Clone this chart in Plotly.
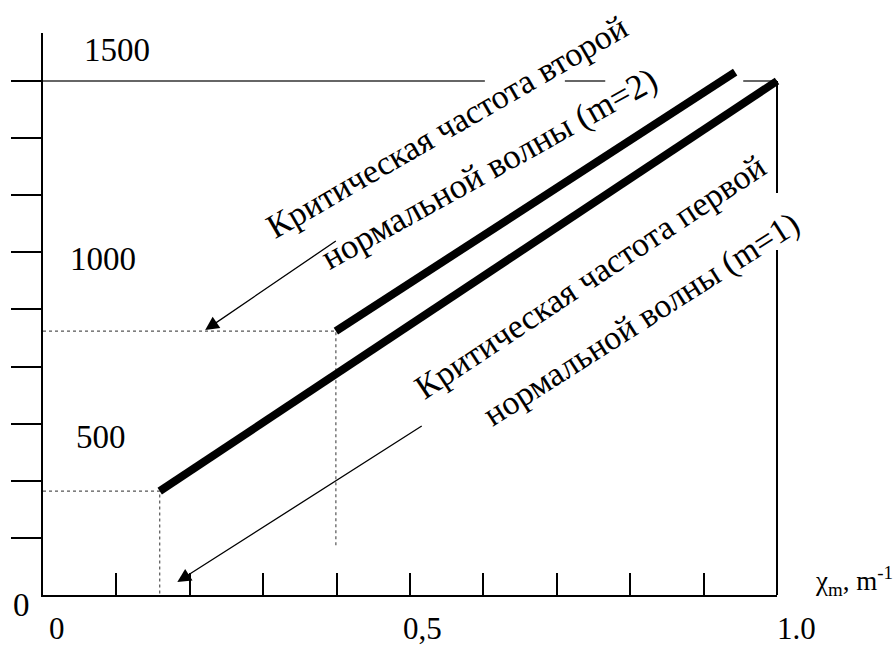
import plotly.graph_objects as go

# ---- data ----
x_tick_vals = [0.1, 0.2, 0.3, 0.4, 0.5, 0.6, 0.7, 0.8, 0.9]
y_tick_vals = [1500 / 9 * i for i in range(1, 10)]

m1_x = [0.159, 1.0]          # first normal wave (m=1)
m1_y = [303, 1500]
m2_x = [0.399, 0.943]        # second normal wave (m=2)
m2_y = [770, 1526]

line1500_x = [0.0, 0.602, None, 0.711, 0.766, None, 0.954, 1.0]
line1500_y = [1500, 1500, None, 1500, 1500, None, 1500, 1500]

right_x = [1.0, 1.0, None, 1.0, 1.0]
right_y = [1500, 1173, None, 1007, 0]

y_labels = ["1500", "1000", "500"]
y_label_pos = [(0.101, 1590), (0.082, 981), (0.079, 461)]
x_labels = ["0", "0,5", "1.0"]
x_label_vals = [0.0, 0.5, 1.0]
x_label_shift = [14, 12, 19]

texts = ["Критическая частота второй", "нормальной волны (m=2)",
         "Критическая частота первой", "нормальной волны (m=1)"]
text_pos = [(0.551, 1366), (0.608, 1246), (0.746, 928), (0.8155, 805)]
text_angle = [-30, -29, -33.5, -32.5]
text_size = [34, 35, 34, 34]

arrow_head = [(0.221, 773), (0.183, 38)]
arrow_tail = [(0.401, 1036), (0.518, 496)]

# ---- pixel geometry ----
W, H = 895, 646
px_x0, px_x1 = 43, 777      # x=0 and x=1.0
px_y0, px_ytop = 595, 33    # y=0 and y=1640
y_top = 1640
sx = (px_x1 - px_x0) / 1.0
sy = (px_y0 - px_ytop) / y_top
xr = [-px_x0 / sx, (W - px_x0) / sx]
yr = [-(H - px_y0) / sy, px_y0 / sy]

FONT = "Liberation Serif"
fig = go.Figure()

dot = dict(color="#555555", width=1.2, dash="dot")
fig.add_trace(go.Scatter(x=[0, m1_x[0], m1_x[0]], y=[m1_y[0], m1_y[0], 0],
                         mode="lines", line=dot, hoverinfo="skip"))
fig.add_trace(go.Scatter(x=[0, m2_x[0], m2_x[0]], y=[m2_y[0], m2_y[0], 137],
                         mode="lines", line=dot, hoverinfo="skip"))
fig.add_trace(go.Scatter(x=line1500_x, y=line1500_y, mode="lines",
                         line=dict(color="#333333", width=1.6), hoverinfo="skip"))
fig.add_trace(go.Scatter(x=right_x, y=right_y, mode="lines",
                         line=dict(color="black", width=2), hoverinfo="skip"))
fig.add_trace(go.Scatter(x=m1_x, y=m1_y, mode="lines",
                         line=dict(color="black", width=8), hoverinfo="skip"))
fig.add_trace(go.Scatter(x=m2_x, y=m2_y, mode="lines",
                         line=dict(color="black", width=8), hoverinfo="skip"))
# axis-frame subplot
fig.add_trace(go.Scatter(x=[None], y=[None], xaxis="x2", yaxis="y2",
                         mode="markers", hoverinfo="skip"))

ann = []
for t, (x, y) in zip(y_labels, y_label_pos):
    ann.append(dict(x=x, y=y, xref="x", yref="y", text=t, showarrow=False,
                    font=dict(family=FONT, size=33, color="black")))
ann.append(dict(x=0, y=0, xref="x", yref="y", text="0", showarrow=False,
                xshift=-22, yshift=-10, font=dict(family=FONT, size=33, color="black")))
for t, v, s in zip(x_labels, x_label_vals, x_label_shift):
    ann.append(dict(x=v, y=0, xref="x", yref="y", text=t, showarrow=False,
                    xshift=s, yshift=-33, font=dict(family=FONT, size=31, color="black")))
ann.append(dict(x=1.0, y=0, xref="x", yref="y", text="χ<sub>m</sub>, m<sup>-1</sup>",
                showarrow=False, xshift=77, yshift=14,
                font=dict(family=FONT, size=27, color="black")))
for t, (x, y), a, fs in zip(texts, text_pos, text_angle, text_size):
    ann.append(dict(x=x, y=y, xref="x", yref="y", text=t, showarrow=False,
                    textangle=a, xanchor="center", yanchor="middle",
                    font=dict(family=FONT, size=fs, color="black")))
for (hx, hy), (tx, ty) in zip(arrow_head, arrow_tail):
    ann.append(dict(x=hx, y=hy, xref="x", yref="y", ax=tx, ay=ty, axref="x", ayref="y",
                    text="", showarrow=True, arrowhead=2, arrowsize=2.1,
                    arrowwidth=1.3, arrowcolor="black", standoff=0))

fig.update_layout(
    width=W, height=H, margin=dict(l=0, r=0, t=0, b=0, pad=0),
    paper_bgcolor="white", plot_bgcolor="rgba(0,0,0,0)", showlegend=False,
    xaxis=dict(domain=[0, 1], range=xr, visible=False, fixedrange=True),
    yaxis=dict(domain=[0, 1], range=yr, visible=False, fixedrange=True),
    xaxis2=dict(domain=[px_x0 / W, px_x1 / W], range=[0, 1.0], anchor="y2",
                showline=True, linecolor="black", linewidth=2, showgrid=False,
                zeroline=False, ticks="inside", ticklen=22, tickwidth=2,
                tickcolor="black", tickvals=x_tick_vals, showticklabels=False),
    yaxis2=dict(domain=[(H - px_y0) / H, (H - px_ytop) / H], range=[0, y_top],
                anchor="x2", showline=True, linecolor="black", linewidth=2,
                showgrid=False, zeroline=False, ticks="outside", ticklen=30,
                tickwidth=2, tickcolor="black", tickvals=y_tick_vals,
                showticklabels=False),
    annotations=ann,
)
fig.write_html("out.html", config={"displayModeBar": False},
               post_script="document.body.style.margin='0';document.body.style.overflow='hidden';")
